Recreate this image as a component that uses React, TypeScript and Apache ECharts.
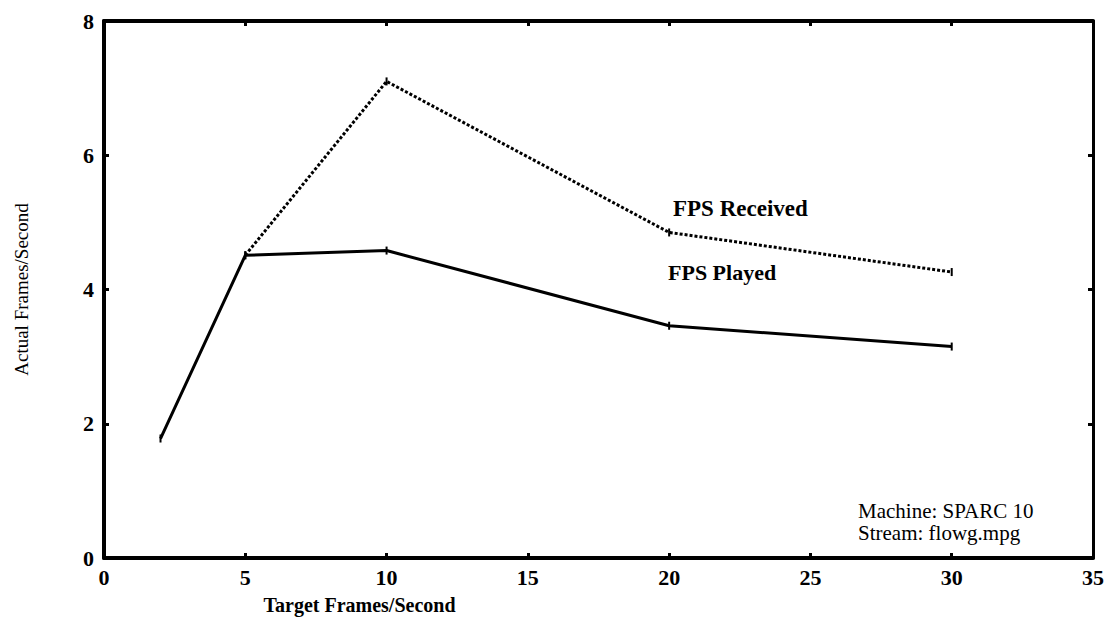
import React, { useEffect, useRef } from "react";
import * as echarts from "echarts";

const targetFps = [2, 5, 10, 20, 30];
const fpsPlayed = [1.78, 4.51, 4.58, 3.46, 3.15];
const receivedTargets = [5, 10, 20, 30];
const fpsReceived = [4.51, 7.1, 4.85, 4.26];
const xTicks = [0, 5, 10, 15, 20, 25, 30, 35];
const yTicks = [0, 2, 4, 6, 8];

const FONT = "'Liberation Serif', 'Times New Roman', serif";

export default function App() {
  const ref = useRef<HTMLDivElement>(null);
  useEffect(() => {
    if (!ref.current) return;
    const chart = echarts.init(ref.current, undefined, { renderer: "svg" });
    const axisLine = { show: true, onZero: false, lineStyle: { color: "#000", width: 4 } };
    const tick = { show: true, inside: true, length: 5, lineStyle: { color: "#000", width: 3 } };
    chart.setOption({
      animation: false,
      backgroundColor: "#fff",
      grid: { left: 104, right: 15, top: 21, bottom: 57 },
      xAxis: [
        {
          type: "value",
          min: xTicks[0],
          max: xTicks[xTicks.length - 1],
          interval: 5,
          axisLine,
          axisTick: tick,
          axisLabel: { color: "#000", fontFamily: FONT, fontSize: 22, fontWeight: "bold", margin: 8 },
          splitLine: { show: false },
          name: "Target Frames/Second",
          nameLocation: "middle",
          nameGap: 37,
          nameTextStyle: { color: "#000", fontFamily: FONT, fontSize: 20, fontWeight: "bold", padding: [0, 0, 0, -478] },
        },
        {
          type: "value",
          position: "top",
          min: 0,
          max: 35,
          interval: 5,
          axisLine,
          axisTick: tick,
          axisLabel: { show: false },
          splitLine: { show: false },
        },
      ],
      yAxis: [
        {
          type: "value",
          min: yTicks[0],
          max: yTicks[yTicks.length - 1],
          interval: 2,
          axisLine,
          axisTick: tick,
          axisLabel: { color: "#000", fontFamily: FONT, fontSize: 22, fontWeight: "bold", margin: 10 },
          splitLine: { show: false },
          name: "Actual Frames/Second",
          nameLocation: "middle",
          nameGap: 73,
          nameRotate: 90,
          nameTextStyle: { color: "#000", fontFamily: FONT, fontSize: 19 },
        },
        {
          type: "value",
          position: "right",
          min: 0,
          max: 8,
          interval: 2,
          axisLine: { show: true, onZero: false, lineStyle: { color: "#000", width: 3 } },
          axisTick: tick,
          axisLabel: { show: false },
          splitLine: { show: false },
        },
      ],
      series: [
        {
          name: "FPS Played",
          type: "line",
          data: targetFps.map((x, i) => [x, fpsPlayed[i]]),
          lineStyle: { color: "#000", width: 3, type: "solid" },
          itemStyle: { color: "#000" },
          symbol: "rect",
          symbolSize: [2, 8],
          showSymbol: true,
        },
        {
          name: "FPS Received",
          type: "line",
          data: receivedTargets.map((x, i) => [x, fpsReceived[i]]),
          lineStyle: { color: "#000", width: 3, type: [3, 2] },
          itemStyle: { color: "#000" },
          symbol: "rect",
          symbolSize: [2, 8],
          showSymbol: true,
        },
      ],
      graphic: [
        { type: "text", left: 673, top: 197, style: { text: "FPS Received", font: `bold 23px ${FONT}`, fill: "#000" } },
        { type: "text", left: 668, top: 261, style: { text: "FPS Played", font: `bold 22px ${FONT}`, fill: "#000" } },
        { type: "text", left: 858, top: 500, style: { text: "Machine: SPARC 10", font: `21px ${FONT}`, fill: "#000" } },
        { type: "text", left: 858, top: 522, style: { text: "Stream: flowg.mpg", font: `21px ${FONT}`, fill: "#000" } },
      ],
    });
    return () => chart.dispose();
  }, []);
  return <div ref={ref} style={{ width: 1108, height: 620, position: "absolute", left: 0, top: 0 }} />;
}
